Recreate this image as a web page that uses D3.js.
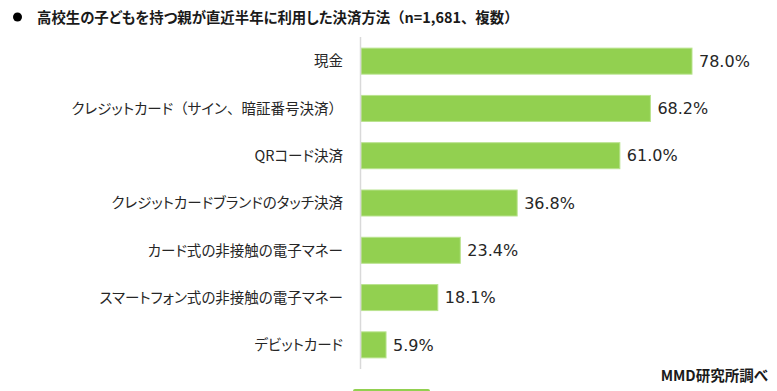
<!DOCTYPE html>
<html><head><meta charset="utf-8">
<script src="https://cdn.jsdelivr.net/npm/d3@7"></script>
<style>body{margin:0;background:#fff}svg{display:block}.p{font-feature-settings:"palt"}</style>
</head><body>
<svg id="c" width="777" height="391"></svg>
<script>
const titleText = "高校生の子どもを持つ親が直近半年に利用した決済方法（n=1,681、複数）";
const sourceText = "MMD研究所調べ";
const categories = ["現金","クレジットカード（サイン、暗証番号決済）","QRコード決済","クレジットカードブランドのタッチ決済","カード式の非接触の電子マネー","スマートフォン式の非接触の電子マネー","デビットカード"];
const values = [78.0,68.2,61.0,36.8,23.4,18.1,5.9];

const svg = d3.select("#c");
const x0 = 361;
const x = d3.scaleLinear().domain([0, 78]).range([x0, 692]);
const y = d3.scaleBand().domain(categories).range([37.5, 368.5]).paddingInner(0.45).paddingOuter(0.225);

// proportional kana, full-width punctuation
function fillRuns(sel){
  sel.each(function(d){
    const t = d3.select(this);
    const runs = String(d).match(/[（）、]+|[^（）、]+/g);
    runs.forEach(r=>{
      const ts = t.append("tspan").text(r);
      if(!/[（）、]/.test(r)) ts.attr("class","p");
    });
  });
}

svg.append("circle").attr("cx",17.5).attr("cy",17).attr("r",4.5).attr("fill","#000");
svg.append("text").datum(titleText).attr("x",37).attr("y",23)
  .attr("font-family","'Noto Sans CJK JP'").attr("font-weight","bold").attr("font-size",14.4).attr("fill","#1a1a1a")
  .call(fillRuns);

svg.selectAll("rect.bar").data(values).join("rect").attr("class","bar")
  .attr("x", x(0)).attr("y",(d,i)=>y(categories[i]))
  .attr("width", d=>x(d)-x(0)).attr("height", y.bandwidth())
  .attr("fill","#92D050").attr("stroke","#b9e38e").attr("stroke-width",1);

svg.append("line").attr("x1",360.5).attr("x2",360.5).attr("y1",37).attr("y2",369)
  .attr("stroke","#d9d9d9").attr("stroke-width",1.5);

svg.selectAll("text.cat").data(categories).join("text").attr("class","cat")
  .attr("x",343).attr("y",d=>y(d)+y.bandwidth()/2).attr("dy","0.36em")
  .attr("text-anchor","end").attr("font-family","'Noto Sans CJK JP'").attr("font-size",14.5)
  .attr("fill","#262626").call(fillRuns);

svg.selectAll("text.val").data(values).join("text").attr("class","val")
  .attr("x",d=>x(d)+7).attr("y",(d,i)=>y(categories[i])+y.bandwidth()/2).attr("dy","0.36em")
  .attr("font-family","'DejaVu Sans'").attr("font-size",16).attr("fill","#262626")
  .text(d=>d.toFixed(1)+"%");

svg.append("text").attr("x",768).attr("y",380.5).attr("text-anchor","end").attr("class","p").text(sourceText)
  .attr("font-family","'Noto Sans CJK JP'").attr("font-weight","bold").attr("font-size",14.5).attr("fill","#1a1a1a");

svg.append("rect").attr("x",353).attr("y",389).attr("width",77).attr("height",4).attr("rx",2).attr("fill","#92D050");
</script>
</body></html>
